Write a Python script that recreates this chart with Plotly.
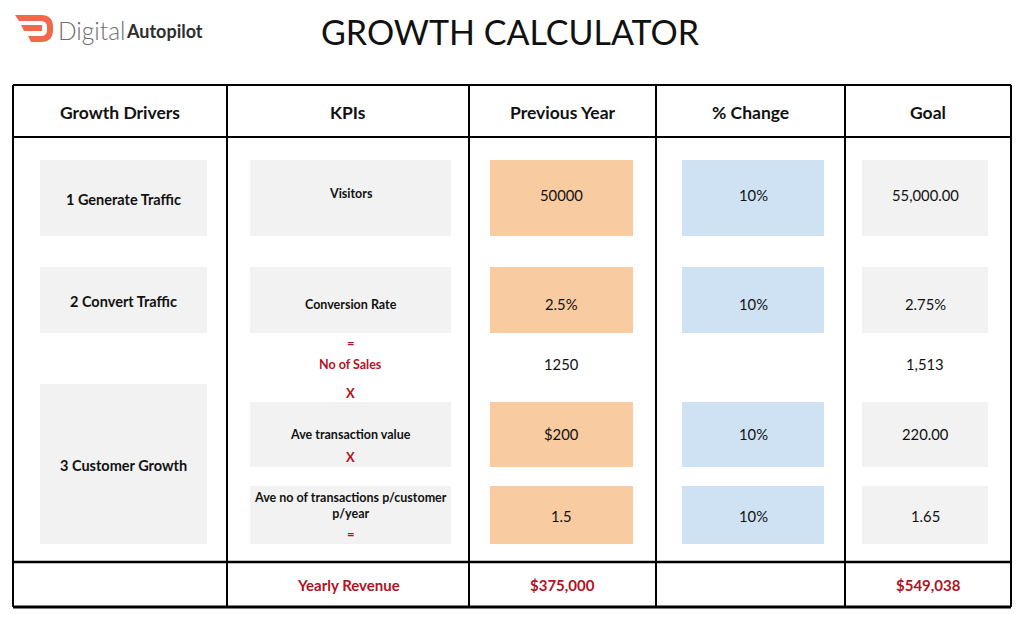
import plotly.graph_objects as go

# ---------------- data ----------------
title = "GROWTH CALCULATOR"
headers = ["Growth Drivers", "KPIs", "Previous Year", "% Change", "Goal"]
drivers = ["1 Generate Traffic", "2 Convert Traffic", "3 Customer Growth"]
kpis = ["Visitors", "Conversion Rate", "No of Sales", "Ave transaction value",
        "Ave no of transactions p/customer<br>p/year"]
kpi_ops = ["", "", "=", "X", "X", "="]
previous_year = ["50000", "2.5%", "1250", "$200", "1.5"]
pct_change = ["10%", "10%", "", "10%", "10%"]
goal = ["55,000.00", "2.75%", "1,513", "220.00", "1.65"]
total_label = "Yearly Revenue"
total_previous = "$375,000"
total_goal = "$549,038"

# ---------------- layout geometry (window pixel coordinates) ----------------
PAGE_OFFSET = 8          # default body margin of the html page
W, H = 1024 - 2 * PAGE_OFFSET, 621 - 2 * PAGE_OFFSET
col_edges = [13, 227, 469, 656, 845, 1011]
table_top, header_bottom, total_top, table_bottom = 85, 137, 562, 607
row_boxes = [(160, 236), (267, 333), None, (402, 467), (486, 544)]
row_text_y = [195, 304, 364, 434, 516]
kpi_text_y = [193, 304, 364, 434, 505]
driver_boxes = [(160, 236), (267, 333), (384, 544)]
driver_text_y = [199, 301, 465]
col_box_x = [(40, 207), (250, 451), (490, 633), (682, 824), (862, 988)]
op_y = [None, None, 343, 393, 457, 534]

ORANGE = "#f8cba0"
BLUE = "#cfe2f3"
GREY = "#f2f2f2"
RED = "#b3121f"
TXT = "#111111"
FONT = "Lato"

fig = go.Figure()
shapes = []
ann = []

def rect(x0, y0, x1, y1, fill):
    shapes.append(dict(type="rect", xref="x", yref="y", x0=x0, x1=x1, y0=y0, y1=y1,
                       fillcolor=fill, line=dict(width=0), layer="below"))

def line(x0, y0, x1, y1, w=2):
    shapes.append(dict(type="line", xref="x", yref="y", x0=x0, x1=x1, y0=y0, y1=y1,
                       line=dict(color="black", width=w)))

def text(x, y, s, size=13, color=TXT, bold=False, **kw):
    ann.append(dict(x=x, y=y, xref="x", yref="y", text=s, showarrow=False,
                    font=dict(family=FONT, size=size, color=color,
                              weight="bold" if bold else "normal"),
                    xanchor=kw.get("xanchor", "center"), yanchor="middle"))

# table frame
line(col_edges[0], table_top, col_edges[-1], table_top)
line(col_edges[0], header_bottom, col_edges[-1], header_bottom)
line(col_edges[0], total_top, col_edges[-1], total_top, 2.5)
line(col_edges[0], table_bottom, col_edges[-1], table_bottom, 3)
for x in col_edges:
    line(x, table_top, x, table_bottom)

# headers
for i, h in enumerate(headers):
    cx = (col_edges[i] + col_edges[i + 1]) / 2
    text(cx, 112, h, size=17.5, bold=True)

# growth drivers
x0, x1 = col_box_x[0]
for (y0, y1), d, ty in zip(driver_boxes, drivers, driver_text_y):
    rect(x0, y0, x1, y1, GREY)
    text((x0 + x1) / 2, ty, d, size=14.5, bold=True)

# KPIs
x0, x1 = col_box_x[1]
for i, k in enumerate(kpis):
    box = row_boxes[i]
    red = (k == "No of Sales")
    if box:
        rect(x0, box[0], x1, box[1], GREY)
    text((x0 + x1) / 2, kpi_text_y[i], k, size=12.5,
         bold=True, color=RED if red else TXT)
for o, y in zip(kpi_ops, op_y):
    if o and y:
        text((x0 + x1) / 2, y, o, size=13, bold=True, color=RED)

# value columns
for ci, (vals, fill) in enumerate([(previous_year, ORANGE), (pct_change, BLUE), (goal, GREY)]):
    x0, x1 = col_box_x[ci + 2]
    for i, v in enumerate(vals):
        box = row_boxes[i]
        if box and v:
            rect(x0, box[0], x1, box[1], fill)
        if v:
            text((x0 + x1) / 2, row_text_y[i], v, size=14.8)

# totals row
ty = (total_top + table_bottom) / 2
text((col_edges[1] + col_edges[2]) / 2, ty, total_label, size=15, bold=True, color=RED)
text((col_edges[2] + col_edges[3]) / 2, ty, total_previous, size=15, bold=True, color=RED)
text((col_edges[4] + col_edges[5]) / 2, ty, total_goal, size=15, bold=True, color=RED)

# title
text(510, 31, title, size=34)

# logo
shapes.append(dict(type="path", xref="x", yref="y",
                   path="M 15 15 L 41 15 Q 53 15 53 27 L 53 30 Q 53 42 41 42 L 31 42 "
                        "L 28 36 L 41 36 Q 47 36 47 30 L 47 27 Q 47 21 41 21 L 19 21 Z",
                   fillcolor="#f0694a", line=dict(width=0)))
shapes.append(dict(type="path", xref="x", yref="y",
                   path="M 21 25 L 42 25 L 42 31 L 24 31 Z",
                   fillcolor="#f0694a", line=dict(width=0)))
ann.append(dict(x=56, y=30, xref="x", yref="y", showarrow=False, xanchor="left",
                yanchor="middle", text="Digital",
                font=dict(family=FONT, size=24.5, color="#6e6e6e", weight=300)))
ann.append(dict(x=124, y=30.5, xref="x", yref="y", showarrow=False, xanchor="left",
                yanchor="middle", text="Autopilot",
                font=dict(family=FONT, size=18, color="#2e2e2e", weight="bold")))

fig.update_layout(
    width=W, height=H, margin=dict(l=0, r=0, t=0, b=0),
    paper_bgcolor="white", plot_bgcolor="white",
    xaxis=dict(range=[PAGE_OFFSET, PAGE_OFFSET + W], visible=False, fixedrange=True),
    yaxis=dict(range=[PAGE_OFFSET + H, PAGE_OFFSET], visible=False, fixedrange=True),
    shapes=shapes, annotations=ann, showlegend=False,
)
fig.write_html("out.html")
